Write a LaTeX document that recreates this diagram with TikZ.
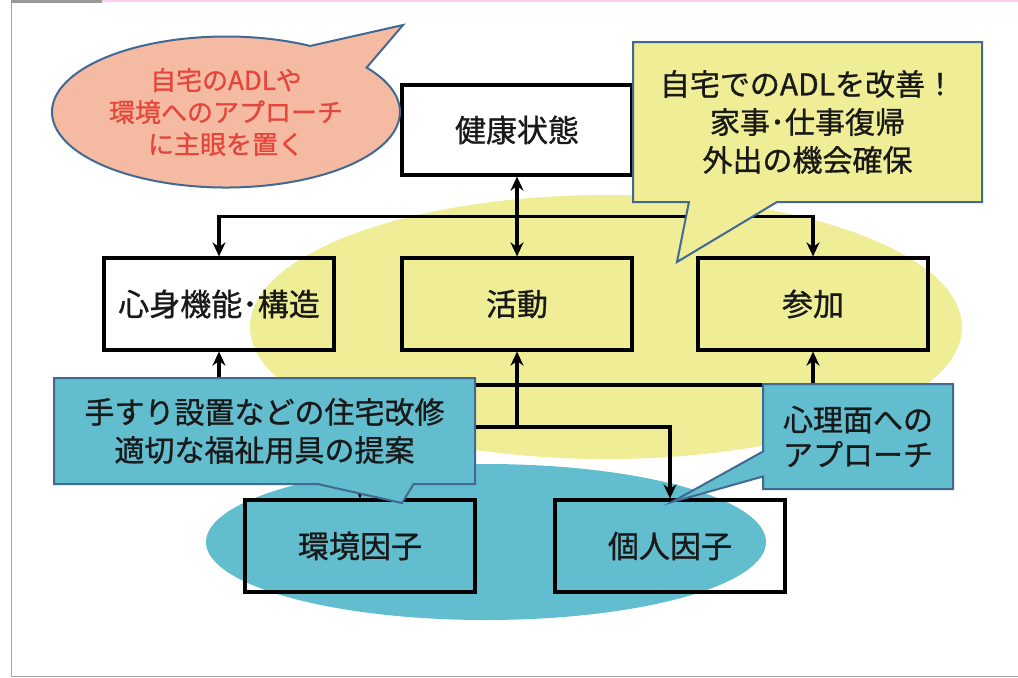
\documentclass[tikz,border=0pt]{standalone}
\usepackage{fontspec}
\setmainfont{Noto Sans CJK JP}[FakeBold=0.9]
\usepackage{xcolor}
\usepackage{tikz}
\usetikzlibrary{calc}
\usetikzlibrary{arrows.meta}
\usetikzlibrary{shapes.callouts}

\definecolor{yellowbg}{RGB}{239,237,150}
\definecolor{tealbg}{RGB}{98,190,206}
\definecolor{salmonbg}{RGB}{245,187,162}
\definecolor{noteline}{RGB}{65,105,145}
\definecolor{notered}{RGB}{228,70,60}
\definecolor{txtblack}{RGB}{25,25,25}

\begin{document}
\begin{tikzpicture}[x=0.5pt, y=-0.5pt, >={Stealth[length=7pt,width=6.5pt]},
  box/.style={rectangle, draw, line width=1.6pt, minimum width=115pt, minimum height=46pt, text=txtblack, font=\fontsize{15.5}{18}\selectfont},
  link/.style={line width=1.9pt},
  yellownote/.style={rectangle callout, draw=noteline, fill=yellowbg, line width=1pt, align=center, inner sep=0pt, text=txtblack, font=\fontsize{15}{19}\selectfont},
  tealnote/.style={rectangle callout, draw=noteline, fill=tealbg, line width=1pt, align=center, inner sep=0pt, text=txtblack},
  salmonnote/.style={ellipse callout, draw=noteline, fill=salmonbg, line width=1pt, align=center, inner sep=0pt, text=notered, font=\fontsize{13}{16}\selectfont}]

  \useasboundingbox (0,0) rectangle (1018,677);
  \draw[gray!70, line width=0.5pt] (11.5,0) -- (11.5,676) -- (1018,676);
  \fill[gray!80] (11,0) rectangle (102,2.5);
  \fill[red!25!magenta!20] (102,0) rectangle (1018,1.5);

  \fill[yellowbg] (606,327) ellipse [x radius=178pt, y radius=66pt];
  \fill[tealbg] (486,542) ellipse [x radius=140pt, y radius=39pt];

  \node[box, minimum height=45pt] (health) at (517,130) {健康状態};
  \node[box] (body) at (219,304) {心身機能･構造};
  \node[box] (act) at (517,304) {活動};
  \node[box] (part) at (813,304) {参加};
  \node[box] (env) at (360,546) {環境因子};
  \node[box] (pers) at (670,546) {個人因子};

  \coordinate (topj) at ($(health.south)!0.5!(act.north)$);
  \coordinate (botj) at ($(act.south)+(0,33)$);
  \coordinate (envj) at ($(act.south)+(0,75)$);

  \draw[<->, link] (health) -- (act);
  \draw[->, link] (topj) -| (body);
  \draw[->, link] (topj) -| (part);
  \draw[->, link] (botj) -| (body);
  \draw[->, link] (botj) -| (part);
  \draw[->, link] (envj) -- (act);
  \draw[->, link] (envj) -| (env);
  \draw[->, link] (envj) -| (pers);

  \node[salmonnote, minimum width=174pt, minimum height=75.5pt, callout absolute pointer={(403,25)}, callout pointer arc=25] (focus) at (226,112) {自宅のADLや\\環境へのアプローチ\\に主眼を置く};
  \node[yellownote, minimum width=174.5pt, minimum height=80pt, callout absolute pointer={(677,262)}, callout pointer width=44pt] (goal) at (807.5,122) {自宅でのADLを改善！\\家事･仕事復帰\\外出の機会確保};
  \node[tealnote, minimum width=210.5pt, minimum height=53pt, callout absolute pointer={(402,503)}, callout pointer width=48pt, font=\fontsize{15}{19}\selectfont] (home) at (264.5,431) {手すり設置などの住宅改修\\適切な福祉用具の提案};
  \node[tealnote, minimum width=95pt, minimum height=52.5pt, callout absolute pointer={(672,502)}, callout pointer width=12.5pt, font=\fontsize{15}{17.5}\selectfont] (mind) at (858,436.5) {心理面への\\アプローチ};
\end{tikzpicture}
\end{document}
